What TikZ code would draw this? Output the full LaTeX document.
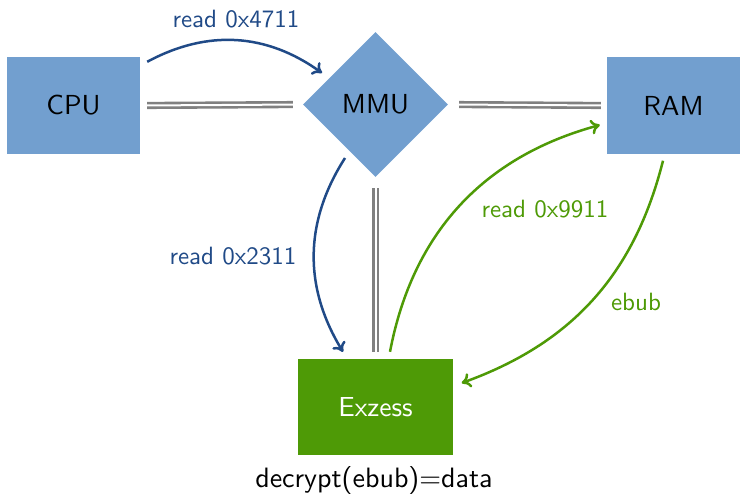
\documentclass[tikz,border=0pt]{standalone}
\usepackage{fontspec}
\setsansfont{lmsans10-regular.otf}
\usetikzlibrary{shapes.geometric,arrows.meta}
\definecolor{boxblue}{HTML}{729FCF}
\definecolor{arrblue}{HTML}{204A87}
\definecolor{boxgreen}{HTML}{4E9A06}
\definecolor{dblgray}{HTML}{808080}
\begin{document}
\begin{tikzpicture}[x=1pt,y=1pt,
  box/.style={rectangle,fill=boxblue,inner sep=0pt,minimum width=133pt,minimum height=97pt,font=\fontsize{27.5}{32}\selectfont\sffamily},
  dia/.style={diamond,fill=boxblue,inner sep=0pt,minimum width=145pt,minimum height=145pt,font=\fontsize{27.5}{32}\selectfont\sffamily},
  gbox/.style={rectangle,fill=boxgreen,text=white,inner sep=0pt,minimum width=155pt,minimum height=96pt,font=\fontsize{27.5}{32}\selectfont\sffamily},
  dbl/.style={draw=dblgray,line width=2.6pt,double=white,double distance=2pt},
  barrow/.style={draw=arrblue,line width=2.5pt,-{To[length=9pt,width=15pt]}},
  garrow/.style={draw=boxgreen,line width=2.5pt,-{To[length=9pt,width=15pt]}},
  blbl/.style={text=arrblue,inner sep=0pt,font=\fontsize{25}{30}\selectfont\sffamily},
  glbl/.style={text=boxgreen,inner sep=0pt,font=\fontsize{25}{30}\selectfont\sffamily}]
\useasboundingbox (0,0) rectangle (744,-495);
\node[box] (cpu) at (73.5,-105.5) {CPU};
\node[dia] (mmu) at (375.5,-104.5) {MMU};
\node[box] (ram) at (673.5,-105.5) {RAM};
\node[gbox] (exz) at (375.5,-407) {Exzess};
\node[anchor=base,inner sep=0pt,font=\fontsize{28}{32}\selectfont\sffamily] (dec) at (374,-487) {decrypt(ebub)=data};
\draw[dbl,shorten <=7pt,shorten >=10pt] (cpu.east) -- (mmu.west);
\draw[dbl,shorten <=11pt,shorten >=6pt] (mmu.east) -- (ram.west);
\draw[dbl,shorten <=11pt,shorten >=7pt] (mmu.south) -- (exz.north);
\draw[barrow] ([shift={(7,-5)}]cpu.north east) to[bend left=32] ([shift={(-53.5,31.5)}]mmu.center);
\draw[barrow] ([shift={(-30.5,-53.5)}]mmu.center) to[bend right=32] ([shift={(-32.5,7)}]exz.north);
\draw[garrow] ([shift={(14.5,7)}]exz.north) to[bend left=32] ([shift={(-7,-19.5)}]ram.west);
\draw[garrow] ([shift={(-10.5,-6.5)}]ram.south) to[bend left=28] ([shift={(8.5,24)}]exz.east);
\node[blbl] (l1) at (236,-19) {read 0x4711};
\node[blbl] (l2) at (233,-256) {read 0x2311};
\node[glbl] (l3) at (545,-209) {read 0x9911};
\node[glbl] (l4) at (636,-302) {ebub};
\end{tikzpicture}
\end{document}
